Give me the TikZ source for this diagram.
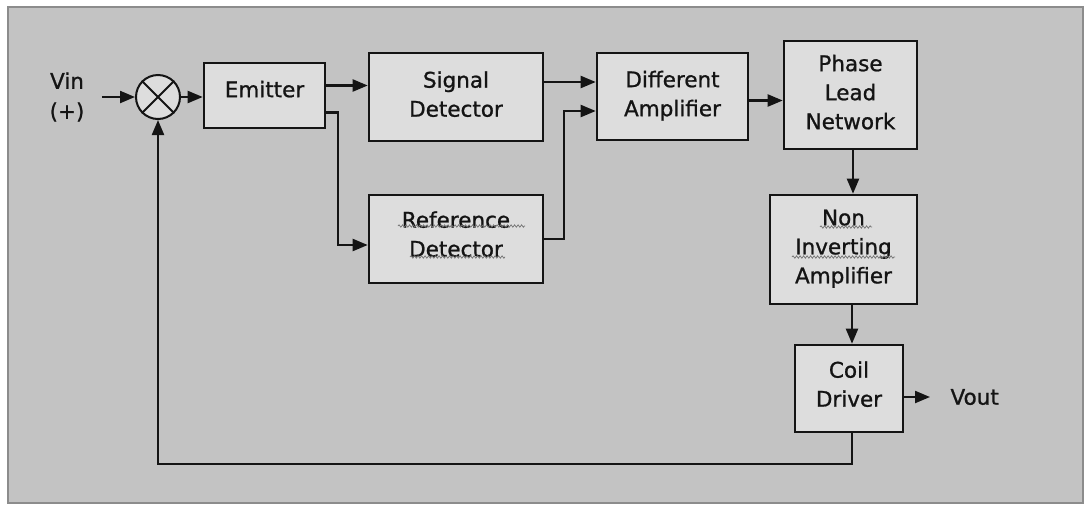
\documentclass[tikz,border=0pt]{standalone}
\usepackage{fontspec}
\setmainfont{DejaVu Sans}
\newfontface\blockfont{DejaVu Sans}[FakeBold=1]
\usetikzlibrary{arrows.meta,calc,decorations.pathmorphing}
\definecolor{panel}{RGB}{195,195,195}
\definecolor{blockfill}{RGB}{221,221,221}
\definecolor{rim}{RGB}{140,140,140}
\definecolor{ink}{RGB}{20,20,20}
\begin{document}
\begin{tikzpicture}[x=1pt,y=-1pt,
  block/.style={draw=ink,line width=2.6pt,fill=blockfill,align=center,inner sep=0pt,
    font=\blockfont\fontsize{21.5}{29}\selectfont,text=ink,text depth=6pt},
  sig/.style={draw=ink,line width=2.2pt,-{Triangle[length=15pt,width=12pt]}},
  squiggle/.style={draw=gray!90!black,line width=.7pt,decorate,
    decoration={snake,amplitude=1.2pt,segment length=3.5pt}},
  label/.style={font=\blockfont\fontsize{21.5}{30}\selectfont,align=center,text=ink}]
\useasboundingbox (0,0) rectangle (1088,507);
\draw[rim,line width=2pt,fill=panel](8,7)rectangle(1083,503);
% summing point and blocks
\node[label](vin)at(67,97){Vin\\(+)};
\node[circle,draw=ink,line width=2pt,fill=blockfill,minimum size=44pt,inner sep=0pt](sum)at(158,97){};
\draw[ink,line width=2pt](sum.north west)--(sum.south east)(sum.north east)--(sum.south west);
\node[block,minimum width=121pt,minimum height=65pt,text depth=13pt](emitter)at(264.5,95.5){Emitter};
\node[block,minimum width=174pt,minimum height=88pt](sigdet)at(456,97){Signal\\Detector};
\node[block,minimum width=174pt,minimum height=88pt,text depth=10pt](refdet)at(456,239){Reference\\Detector};
\node[block,minimum width=151pt,minimum height=87pt](diffamp)at(672.5,96.5){Different\\Amplifier};
\node[block,minimum width=133pt,minimum height=108pt](phase)at(850.5,95){Phase\\Lead\\Network};
\node[block,minimum width=147pt,minimum height=109pt](noninv)at(843.5,249.5){Non\\Inverting\\Amplifier};
\node[block,minimum width=108pt,minimum height=87pt,text depth=9pt](coil)at(849,388.5){Coil\\Driver};
\node[label,anchor=west](vout)at(947,397){Vout};
% spelling marks
\draw[squiggle]($(refdet)+(-58,-13)$)--++(127,0);
\draw[squiggle]($(refdet)+(-46,18)$)--++(95,0);
\draw[squiggle]($(noninv)+(-23.5,-22.5)$)--++(52,0);
\draw[squiggle]($(noninv)+(-51.5,7.5)$)--++(103,0);
% signal paths
\draw[sig,shorten <=14pt](vin.east)--(sum.west);
\draw[sig](sum.east)--(sum.east-|emitter.west);
\draw[sig]([yshift=10pt]emitter.east)--([yshift=10pt]emitter.east-|sigdet.west);
\draw[sig]([yshift=-17pt]emitter.east)--++(12,0)|-([yshift=-6pt]refdet.west);
\draw[sig]([yshift=15pt]sigdet.east)--([yshift=15pt]sigdet.east-|diffamp.west);
\draw[sig](refdet.east)--++(20,0)|-([yshift=-14.5pt]diffamp.west);
\draw[sig]([yshift=-4pt]diffamp.east)--([yshift=-4pt]diffamp.east-|phase.west);
\draw[sig]([xshift=2.5pt]phase.south)--([xshift=2.5pt]phase.south|-noninv.north);
\draw[sig]([xshift=3pt]coil.north|-noninv.south)--([xshift=3pt]coil.north);
\draw[sig,shorten >=17pt](vout.west-|coil.east)--(vout.west);
% feedback
\draw[sig]([xshift=3pt]coil.south)--++(0,31)-|(sum.south);
\end{tikzpicture}
\end{document}
